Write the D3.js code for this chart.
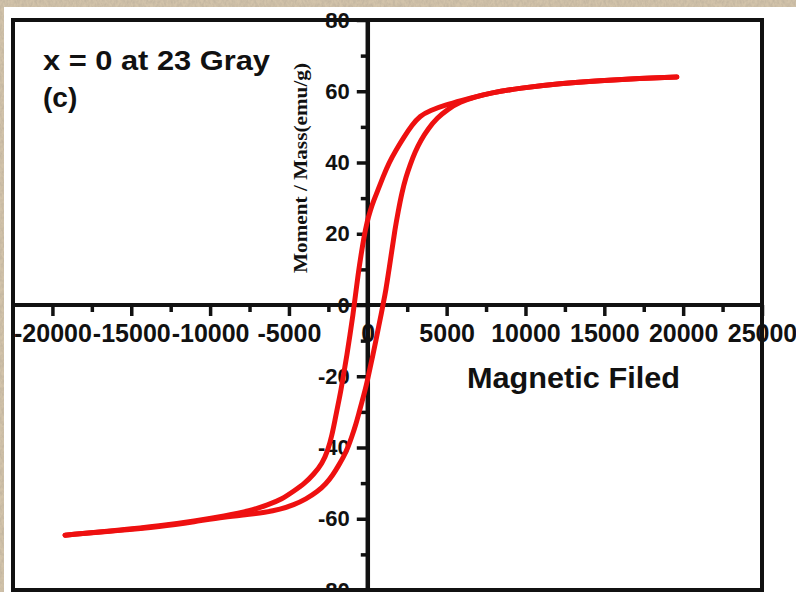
<!DOCTYPE html>
<html>
<head>
<meta charset="utf-8">
<script src="https://cdn.jsdelivr.net/npm/d3@7"></script>
<style>
  html, body { margin: 0; padding: 0; background: #ffffff; }
  svg { display: block; }
</style>
</head>
<body>
<svg id="chart" width="796" height="592"></svg>
<script>
// Axis ticks
const fieldTicks = [-20000, -15000, -10000, -5000, 0, 5000, 10000, 15000, 20000, 25000];
const fieldMinorTicks = [-17500, -12500, -7500, -2500, 2500, 7500, 12500, 17500, 22500];
const momentTicks = [-80, -60, -40, -20, 0, 20, 40, 60, 80];
const momentMinorTicks = [-70, -50, -30, -10, 10, 30, 50, 70];
const fieldDomain = [-22500, 25000];
const momentDomain = [-80, 80];

// Hysteresis loop, branch swept from +H down to -H (field in Oe, moment in emu/g)
const descendingField = [19600, 17260, 14730, 12190, 9650, 7750, 6800, 6040, 4900, 3950, 3310, 2800, 2300, 1790, 1340, 960, 650, 390, 170, -50, -240, -430, -620, -780, -940, -1130, -1320, -1510, -1700, -1890, -2080, -2270, -2520, -2900, -3410, -3980, -4680, -5440, -6330, -7470, -9060, -10960, -13180, -15720, -19200];
const descendingMoment = [64.0, 63.6, 63.0, 62.2, 60.9, 59.5, 58.4, 57.5, 56.1, 54.6, 53.1, 50.5, 47.2, 43.5, 39.9, 35.9, 32.3, 29.5, 26.7, 23.3, 19.1, 14.0, 8.4, 2.8, -2.8, -8.4, -14.0, -18.8, -23.9, -28.1, -32.3, -36.5, -40.7, -44.6, -47.4, -50.0, -52.2, -54.5, -56.1, -57.8, -59.2, -60.6, -62.0, -63.2, -64.6];

// Branch swept from -H back up to +H
const ascendingField = [-19200, -15720, -13180, -10960, -9060, -7600, -6520, -5570, -4680, -3920, -3220, -2650, -2210, -1830, -1510, -1260, -1000, -750, -560, -370, -180, -20, 140, 330, 520, 710, 840, 960, 1150, 1340, 1530, 1720, 1920, 2170, 2420, 2680, 2990, 3370, 3820, 4390, 5090, 5850, 6800, 7750, 9650, 12190, 14730, 17260, 19600];
const ascendingMoment = [-64.6, -63.3, -62.2, -60.8, -59.5, -58.8, -58.2, -57.4, -56.1, -54.5, -52.5, -50.2, -47.7, -44.9, -42.4, -40.0, -36.8, -33.4, -30.3, -27.2, -24.1, -21.1, -17.7, -14.0, -9.8, -5.6, -2.8, 0.0, 4.2, 9.8, 15.4, 21.1, 26.1, 31.7, 35.9, 39.3, 42.9, 46.3, 49.4, 52.5, 55.0, 57.0, 58.4, 59.5, 60.9, 62.2, 63.0, 63.6, 64.0];

const sampleLabel = "x = 0 at 23 Gray";
const panelLabel = "(c)";
const xTitle = "Magnetic Filed";
const yTitle = "Moment / Mass(emu/g)";

const W = 796, H = 592;
const frame = { left: 13, right: 762, top: 20, bottom: 590 };
const sans = "'Liberation Sans', Arial, Helvetica, sans-serif";
const serif = "'Liberation Serif', 'Times New Roman', serif";
const ink = "#111111";
const loopColor = "#ee1010";

const svg = d3.select("#chart");

// Paper-texture surround
const defs = svg.append("defs");
const paper = defs.append("filter").attr("id", "paper").attr("x", 0).attr("y", 0).attr("width", 1).attr("height", 1);
paper.append("feTurbulence").attr("type", "fractalNoise").attr("baseFrequency", "0.45 0.25").attr("numOctaves", 3).attr("seed", 7).attr("result", "noise");
paper.append("feColorMatrix").attr("in", "noise").attr("type", "matrix")
  .attr("values", "0 0 0 0 0.50  0 0 0 0 0.43  0 0 0 0 0.33  1.8 0 0 0 -0.55");

svg.append("rect").attr("x", 0).attr("y", 0).attr("width", W).attr("height", H).attr("fill", "#d2c3aa");
svg.append("rect").attr("x", 0).attr("y", 0).attr("width", W).attr("height", H).attr("filter", "url(#paper)").attr("opacity", 0.7);
svg.append("rect").attr("x", 4).attr("y", 7).attr("width", W - 4).attr("height", H - 7).attr("fill", "#ffffff");

const x = d3.scaleLinear().domain(fieldDomain).range([frame.left, frame.right]);
const y = d3.scaleLinear().domain(momentDomain).range([frame.bottom, frame.top]);

const styleTicks = (g, width) => {
  g.select(".domain").remove();
  g.selectAll(".tick line").attr("stroke", ink).attr("stroke-width", width);
  g.selectAll(".tick text").attr("fill", ink).attr("font-family", sans).attr("font-weight", "bold");
};

// X axis ticks and labels (crossing at M = 0)
const gxMinor = svg.append("g").attr("transform", `translate(0,${y(0)})`)
  .call(d3.axisBottom(x).tickValues(fieldMinorTicks).tickSize(7).tickFormat(""));
styleTicks(gxMinor, 3.5);
const gx = svg.append("g").attr("transform", `translate(0,${y(0)})`)
  .call(d3.axisBottom(x).tickValues(fieldTicks).tickSize(11).tickPadding(8).tickFormat(d => String(d)));
styleTicks(gx, 3.5);
gx.selectAll(".tick text").attr("font-size", 25).attr("dy", "0.7em");

// Y axis ticks and labels (crossing at H = 0)
const gyMinor = svg.append("g").attr("transform", `translate(${x(0)},0)`)
  .call(d3.axisLeft(y).tickValues(momentMinorTicks).tickSize(7).tickFormat(""));
styleTicks(gyMinor, 3.5);
const gy = svg.append("g").attr("transform", `translate(${x(0)},0)`)
  .call(d3.axisLeft(y).tickValues(momentTicks).tickSize(11).tickPadding(7).tickFormat(d => String(d)));
styleTicks(gy, 3.5);
gy.selectAll(".tick text").attr("font-size", 22);

// Axis lines and plot frame drawn over the labels
svg.append("line").attr("x1", frame.left).attr("x2", frame.right).attr("y1", y(0)).attr("y2", y(0))
  .attr("stroke", ink).attr("stroke-width", 4);
svg.append("line").attr("x1", x(0)).attr("x2", x(0)).attr("y1", frame.top).attr("y2", frame.bottom)
  .attr("stroke", ink).attr("stroke-width", 4.5);
svg.append("rect").attr("x", frame.left).attr("y", frame.top)
  .attr("width", frame.right - frame.left).attr("height", frame.bottom - frame.top)
  .attr("fill", "none").attr("stroke", ink).attr("stroke-width", 4);

// Titles
svg.append("text").attr("x", 467).attr("y", 388)
  .attr("font-family", sans).attr("font-weight", "bold").attr("font-size", 29).attr("fill", ink)
  .attr("textLength", 213).attr("lengthAdjust", "spacingAndGlyphs")
  .text(xTitle);
svg.append("text").attr("transform", "translate(307,168) rotate(-90)")
  .attr("text-anchor", "middle")
  .attr("font-family", serif).attr("font-weight", "bold").attr("font-size", 18).attr("fill", ink)
  .attr("textLength", 210).attr("lengthAdjust", "spacingAndGlyphs")
  .text(yTitle);

svg.append("text").attr("x", 43).attr("y", 70)
  .attr("font-family", sans).attr("font-weight", "bold").attr("font-size", 28).attr("fill", ink)
  .attr("textLength", 227).attr("lengthAdjust", "spacingAndGlyphs")
  .text(sampleLabel);
svg.append("text").attr("x", 43).attr("y", 107)
  .attr("font-family", sans).attr("font-weight", "bold").attr("font-size", 28).attr("fill", ink)
  .text(panelLabel);

// Hysteresis loop
const line = d3.line()
  .x(d => x(d[0]))
  .y(d => y(d[1]))
  .curve(d3.curveBasis);

const branches = [
  d3.zip(descendingField, descendingMoment),
  d3.zip(ascendingField, ascendingMoment)
];
svg.append("g").selectAll("path").data(branches).join("path")
  .attr("d", line)
  .attr("fill", "none")
  .attr("stroke", loopColor)
  .attr("stroke-width", 5)
  .attr("stroke-linecap", "round")
  .attr("stroke-linejoin", "round");
</script>
</body>
</html>
